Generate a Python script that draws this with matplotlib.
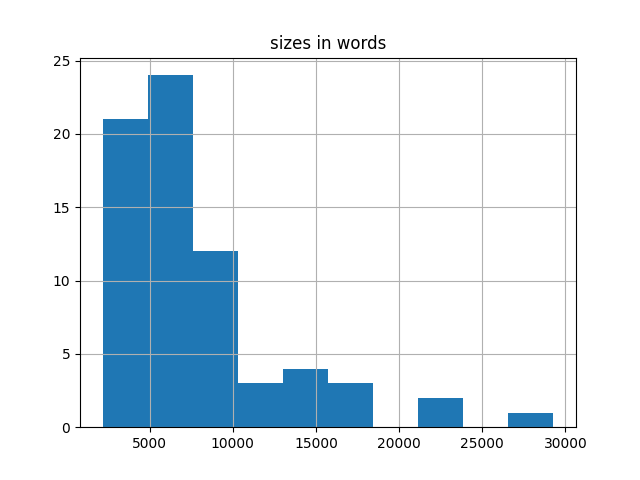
import matplotlib
matplotlib.use('Agg')
import matplotlib.pyplot as plt

# Histogram bin edges (words) and counts
bin_edges = [2169, 4880, 7591, 10302, 13013, 15724, 18435, 21146, 23857, 26568, 29279]
counts = [21, 24, 12, 3, 4, 3, 0, 2, 0, 1]

fig, ax = plt.subplots(figsize=(6.4, 4.8), dpi=100)
ax.hist(bin_edges[:-1], bins=bin_edges, weights=counts, color='#1f77b4')
ax.grid(True)
ax.set_title('sizes in words')

fig.savefig('out.png')
